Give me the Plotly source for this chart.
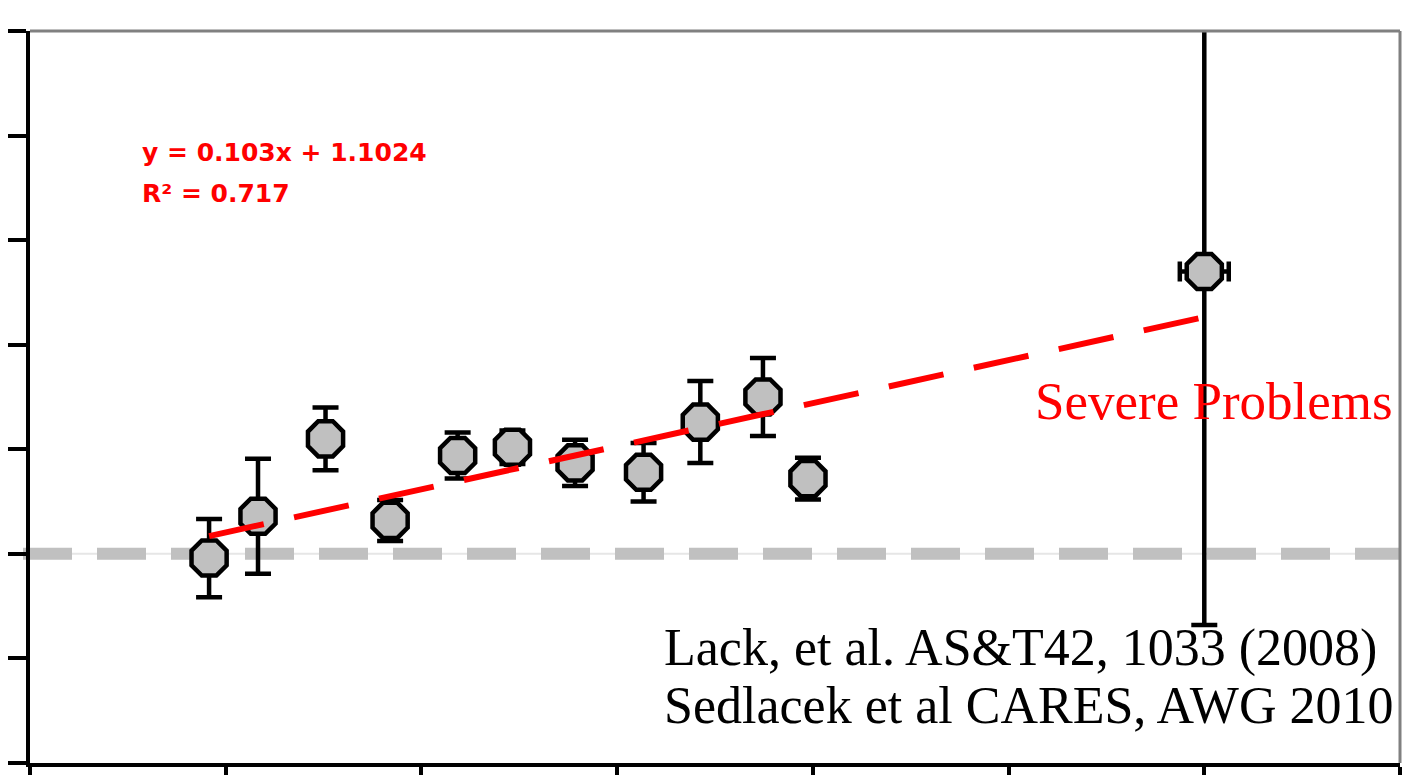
import plotly.graph_objects as go

# Measured absorption ratio per sample, with uncertainties
x_vals = [-0.17, 0.33, 1.02, 1.68, 2.37, 2.93, 3.57, 4.27, 4.85, 5.49, 5.95, 10.0]
y_vals = [0.98, 1.18, 1.55, 1.16, 1.47, 1.51, 1.435, 1.39, 1.63, 1.75, 1.36, 2.35]
y_err = [0.187, 0.275, 0.15, 0.098, 0.11, 0.08, 0.11, 0.14, 0.196, 0.187, 0.1, 1.69]
x_err = [0, 0, 0, 0, 0, 0, 0, 0, 0, 0, 0, 0.25]

# Linear fit reported on the chart
slope = 0.103
intercept = 1.1024
r_squared = 0.717

# Axis extents and tick spacing
x_range = [-2, 12]
y_range = [0, 3.5]
x_dtick = 2
y_dtick = 0.5
reference_ratio = 1.0

W, H = 1410, 775
ML, MR, MT, MB = 30, 10, 31, 12
PW, PH = W - ML - MR, H - MT - MB


def px_x(px):
    return (px - ML) / PW


def px_y(py):
    return (H - MB - py) / PH


fig = go.Figure()

fig.add_trace(go.Scatter(
    x=x_vals, y=y_vals, mode="markers",
    marker=dict(symbol="octagon", size=38, color="#c0c0c0",
                line=dict(color="black", width=4.5)),
    error_y=dict(type="data", array=y_err, visible=True,
                 color="black", thickness=4.5, width=13),
    error_x=dict(type="data", array=x_err, visible=True,
                 color="black", thickness=4.5, width=10),
    cliponaxis=False, showlegend=False, hoverinfo="skip",
))

# Trendline over the data range
fit_x = [min(x_vals), max(x_vals)]
fit_y = [slope * v + intercept for v in fit_x]
fig.add_trace(go.Scatter(
    x=fit_x, y=fit_y, mode="lines",
    line=dict(color="#ff0000", width=6, dash="56px,31px"),
    showlegend=False, hoverinfo="skip",
))

shapes = [
    # thin reference line at ratio 1
    dict(type="line", xref="paper", yref="y", x0=0, x1=1,
         y0=reference_ratio, y1=reference_ratio,
         line=dict(color="#e6e6e6", width=2), layer="below"),
    # heavy dashed reference line
    dict(type="line", xref="paper", yref="y", x0=px_x(23), x1=1,
         y0=reference_ratio, y1=reference_ratio,
         line=dict(color="#c0c0c0", width=12, dash="49px,25px"), layer="below"),
    # grey top and right frame
    dict(type="line", xref="paper", yref="paper", x0=0, x1=1, y0=1, y1=1,
         line=dict(color="#808080", width=3)),
    dict(type="line", xref="paper", yref="paper", x0=1, x1=1, y0=0, y1=1,
         line=dict(color="#808080", width=3)),
]

eq_font = dict(family="DejaVu Sans", size=25, color="#ff0000", weight="bold")
note_font = dict(family="Liberation Serif", size=52, color="black")

annotations = [
    dict(text=f"y = {slope}x + {intercept}", xref="paper", yref="paper",
         x=px_x(140), y=px_y(153), xanchor="left", yanchor="middle",
         showarrow=False, font=eq_font),
    dict(text=f"R² = {r_squared}", xref="paper", yref="paper",
         x=px_x(140), y=px_y(194), xanchor="left", yanchor="middle",
         showarrow=False, font=eq_font),
    dict(text="Severe Problems", xref="paper", yref="paper",
         x=px_x(1395), y=px_y(401), xanchor="right", yanchor="middle",
         showarrow=False,
         font=dict(family="Liberation Serif", size=53, color="#ff0000")),
    dict(text="Lack, et al. AS&amp;T42, 1033 (2008)", xref="paper", yref="paper",
         x=px_x(662), y=px_y(648), xanchor="left", yanchor="middle",
         showarrow=False, font=note_font),
    dict(text="Sedlacek et al CARES, AWG 2010", xref="paper", yref="paper",
         x=px_x(662), y=px_y(705), xanchor="left", yanchor="middle",
         showarrow=False, font=note_font),
]

axis_common = dict(showgrid=False, zeroline=False, showticklabels=False,
                   showline=True, linecolor="black", linewidth=4,
                   ticks="outside", tickwidth=4, tickcolor="black",
                   automargin=False, tick0=0)

fig.update_layout(
    template="none",
    width=W, height=H,
    margin=dict(l=ML, r=MR, t=MT, b=MB, pad=0),
    paper_bgcolor="white", plot_bgcolor="white",
    shapes=shapes, annotations=annotations,
    xaxis=dict(range=x_range, dtick=x_dtick, ticklen=16, **axis_common),
    yaxis=dict(range=y_range, dtick=y_dtick, ticklen=18, **axis_common),
)

fig.write_html("out.html")
